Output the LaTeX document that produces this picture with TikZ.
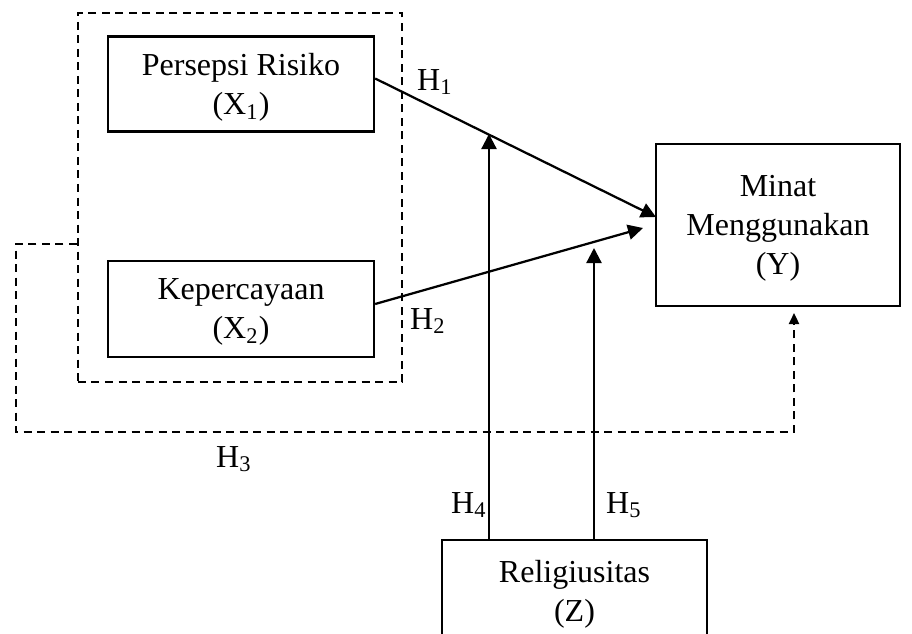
\documentclass[tikz,border=0pt]{standalone}
\usepackage{fontspec}
\setmainfont{Liberation Serif}
\usetikzlibrary{arrows.meta,positioning}
\newcommand{\idx}[1]{\smash{\textsubscript{#1}}}

\begin{document}
\begin{tikzpicture}[
    x=0.4pt, y=-0.4pt,
    box/.style={draw, line width=0.9pt, align=center, inner sep=0pt, text depth=-1pt, font=\fontsize{12.8}{15.6}\selectfont},
    hlabel/.style={inner sep=0pt, font=\fontsize{12.8}{14}\selectfont},
    link/.style={-{Triangle[length=6pt, width=6pt]}, line width=0.9pt},
    dlink/.style={-{Triangle[length=4.4pt, width=4pt]}, line width=0.9pt, dash pattern=on 3.2pt off 2.2pt},
    group/.style={draw, line width=0.9pt, dash pattern=on 3.2pt off 2.2pt, inner sep=0pt}
]
\useasboundingbox (0,0) rectangle (912,633);
% variables
\node[group, minimum width=129.6pt, minimum height=147.6pt] (grp) at (240,197.5) {};
\node[box, fill=white, minimum width=106.4pt, minimum height=38pt] (x1) at (241,84) {Persepsi Risiko\\(X\idx{1})};
\node[box, fill=white, minimum width=106.4pt, minimum height=38.4pt] (x2) at (241,309) {Kepercayaan\\(X\idx{2})};
\node[box, minimum width=97.6pt, minimum height=64.8pt] (y) at (778,225) {Minat\\Menggunakan\\(Y)};
\node[box, minimum width=106pt, minimum height=40.8pt] (z) at (574.5,591) {Religiusitas\\(Z)};
% hypotheses
\node[hlabel] (h1) at (435,80) {H\idx{1}};
\node[hlabel] (h2) at (428,319) {H\idx{2}};
\node[hlabel] (h3) at (234,457) {H\idx{3}};
\node[hlabel] (h4) at (469,503) {H\idx{4}};
\node[hlabel] (h5) at (624,503) {H\idx{5}};
\coordinate (t1) at (656,217);
\coordinate (t2) at (643,228);
\coordinate (m4) at (489,134);
\coordinate (m5) at (594,248);
\coordinate (l3) at (16,244);
\coordinate (r3) at (794,432);
\coordinate (t3) at (794,313);
\draw[link] ([yshift=2.2pt]x1.east) -- (t1);
\draw[link] ([yshift=2pt]x2.east) -- (t2);
\draw[link] (z.north -| m4) -- (m4);
\draw[link] (z.north -| m5) -- (m5);
\draw[dlink] (grp.west |- l3) -- (l3) |- (r3) -- (t3);
\end{tikzpicture}
\end{document}
